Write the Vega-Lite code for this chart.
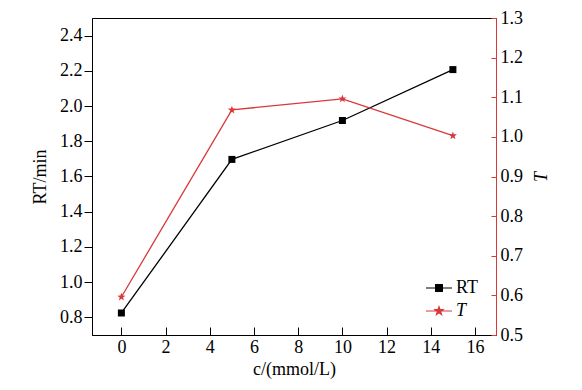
{
  "$schema": "https://vega.github.io/schema/vega-lite/v6.json",
  "width": 404,
  "height": 317,
  "autosize": {"type": "none"},
  "padding": {"left": 92, "top": 18, "right": 86, "bottom": 55},
  "background": "white",
  "config": {
    "view": {"stroke": "black", "strokeWidth": 1},
    "font": "Liberation Serif",
    "axis": {"grid": false, "labelFont": "Liberation Serif", "titleFont": "Liberation Serif", "labelFontSize": 18, "titleFontSize": 18, "titleFontWeight": "normal", "labelColor": "black", "titleColor": "black"}
  },
  "data": {
    "values": [
      {"c": 0, "series": "RT", "value": 0.825},
      {"c": 5, "series": "RT", "value": 1.697},
      {"c": 10, "series": "RT", "value": 1.918},
      {"c": 15, "series": "RT", "value": 2.207},
      {"c": 0, "series": "T", "value": 0.596},
      {"c": 5, "series": "T", "value": 1.068},
      {"c": 10, "series": "T", "value": 1.096},
      {"c": 15, "series": "T", "value": 1.003}
    ]
  },
  "encoding": {
    "x": {
      "field": "c", "type": "quantitative",
      "scale": {"domain": [-1.33, 16.95], "nice": false, "zero": false},
      "axis": {"orient": "bottom", "values": [0, 2, 4, 6, 8, 10, 12, 14, 16], "tickSize": -8, "tickColor": "black", "domainColor": "black", "labelFontSize": 18, "labelPadding": 11, "title": "c/(mmol/L)", "titleFontSize": 18, "titlePadding": 4}
    },
    "color": {
      "field": "series", "type": "nominal",
      "scale": {"domain": ["RT", "T"], "range": ["#000000", "#d9383a"]},
      "legend": {
        "orient": "none", "legendX": 333, "legendY": 256, "title": null,
        "symbolSize": 676, "labelFontSize": 18, "labelFont": "Liberation Serif", "labelColor": "black", "labelOffset": 3, "rowPadding": -4,
        "encode": {
          "symbols": {"update": {
            "shape": {"signal": "datum.value === 'RT' ? 'M-1,0H1M-0.26,-0.26H0.26V0.26H-0.26Z' : 'M-1,0H1M0,-0.33L0.078,-0.107L0.314,-0.102L0.126,0.041L0.194,0.267L0,0.132L-0.194,0.267L-0.126,0.041L-0.314,-0.102L-0.078,-0.107Z'"},
            "fill": {"signal": "datum.value === 'RT' ? '#222222' : '#d9383a'"},
            "stroke": {"signal": "datum.value === 'RT' ? '#000000' : '#d9383a'"},
            "strokeWidth": {"value": 1.2},
            "opacity": {"value": 1}
          }},
          "labels": {"update": {"fontStyle": {"signal": "datum.value === 'T' ? 'italic' : 'normal'"}}}
        }
      }
    }
  },
  "layer": [
    {
      "transform": [{"filter": "datum.series === 'RT'"}],
      "mark": {"type": "line", "strokeWidth": 1.3},
      "encoding": {
        "y": {"field": "value", "type": "quantitative", "scale": {"domain": [0.7, 2.5], "nice": false, "zero": false}, "axis": null}
      }
    },
    {
      "transform": [{"filter": "datum.series === 'RT'"}],
      "mark": {"type": "point", "shape": "square", "filled": true, "size": 49, "opacity": 1},
      "encoding": {
        "y": {
          "field": "value", "type": "quantitative",
          "scale": {"domain": [0.7, 2.5], "nice": false, "zero": false},
          "axis": {"orient": "left", "values": [0.8, 1.0, 1.2, 1.4, 1.6, 1.8, 2.0, 2.2, 2.4], "format": ".1f", "tickSize": 8, "tickColor": "black", "domainColor": "black", "labelFontSize": 18, "labelPadding": 2, "title": "RT/min", "titleFontSize": 18, "titlePadding": 10}
        }
      }
    },
    {
      "transform": [{"filter": "datum.series === 'T'"}],
      "mark": {"type": "line", "strokeWidth": 1.3},
      "encoding": {
        "y": {"field": "value", "type": "quantitative", "scale": {"domain": [0.5, 1.3], "nice": false, "zero": false}, "axis": null}
      }
    },
    {
      "transform": [{"filter": "datum.series === 'T'"}],
      "mark": {"type": "point", "shape": "M0,-1L0.235,-0.324L0.951,-0.309L0.38,0.124L0.588,0.809L0,0.4L-0.588,0.809L-0.38,0.124L-0.951,-0.309L-0.235,-0.324Z", "filled": true, "size": 74, "opacity": 1},
      "encoding": {
        "y": {
          "field": "value", "type": "quantitative",
          "scale": {"domain": [0.5, 1.3], "nice": false, "zero": false},
          "axis": {"orient": "right", "values": [0.5, 0.6, 0.7, 0.8, 0.9, 1.0, 1.1, 1.2, 1.3], "format": ".1f", "tickSize": -5, "tickColor": "#d9383a", "domainColor": "#d9383a", "labelFontSize": 18, "labelPadding": 9, "title": "T", "titleFontSize": 18, "titleFontStyle": "italic", "titleAngle": 270, "titlePadding": 28}
        }
      }
    }
  ],
  "resolve": {"scale": {"y": "independent"}}
}
